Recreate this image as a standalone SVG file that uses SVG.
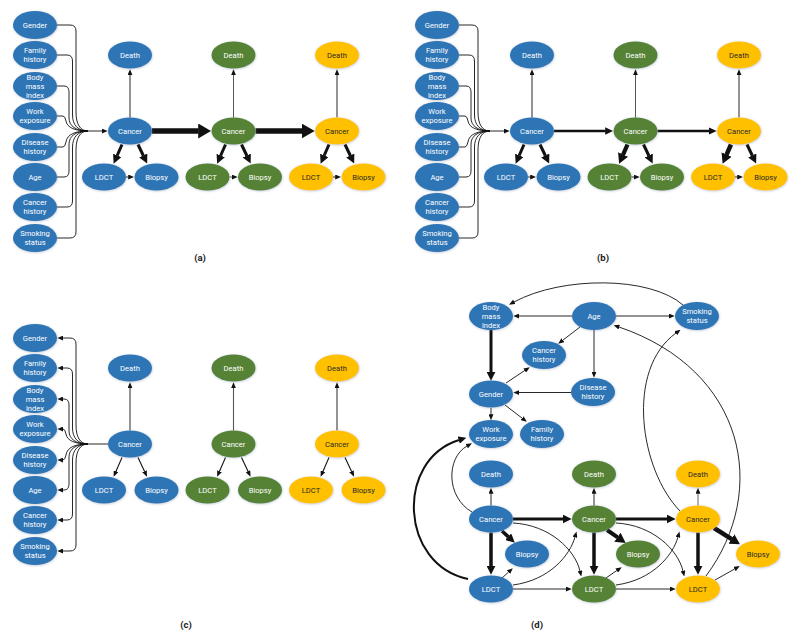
<svg xmlns="http://www.w3.org/2000/svg" width="800" height="636" viewBox="0 0 800 636">
<style>
.b{fill:#2E75B6}.g{fill:#548235}.y{fill:#FFC000}
ellipse{filter:url(#sh)}
text{font-family:Roboto,"Liberation Sans",sans-serif;font-size:7.6px;text-anchor:middle;fill:#fff}
.ty{fill:#2a2a2a}
.lbl{font-size:9.5px;font-weight:bold;fill:#222}
.e{fill:none;stroke:#111;stroke-width:0.9}
.e path{fill:none}
</style>
<defs>
<filter id="sh" x="-20%" y="-25%" width="140%" height="150%"><feDropShadow dx="0.4" dy="0.6" stdDeviation="0.8" flood-color="#6a7f99" flood-opacity="0.45"/></filter>
<marker id="s" markerUnits="userSpaceOnUse" markerWidth="6" markerHeight="5" viewBox="0 0 6 5" refX="0.3" refY="2.5" orient="auto"><path d="M0,0L6,2.5L0,5z" fill="#111"/></marker>
<marker id="m" markerUnits="userSpaceOnUse" markerWidth="8" markerHeight="7.5" viewBox="0 0 8 7.5" refX="0.3" refY="3.75" orient="auto"><path d="M0,0L8,3.75L0,7.5z" fill="#111"/></marker>
<marker id="t" markerUnits="userSpaceOnUse" markerWidth="9" markerHeight="9" viewBox="0 0 9 9" refX="0.3" refY="4.5" orient="auto"><path d="M0,0L9,4.5L0,9z" fill="#111"/></marker>
<marker id="u" markerUnits="userSpaceOnUse" markerWidth="10" markerHeight="11" viewBox="0 0 10 11" refX="0.3" refY="5.5" orient="auto"><path d="M0,0L10,5.5L0,11z" fill="#111"/></marker>
<marker id="x" markerUnits="userSpaceOnUse" markerWidth="13" markerHeight="15" viewBox="0 0 13 15" refX="0.3" refY="7.5" orient="auto"><path d="M0,0L13,7.5L0,15z" fill="#111"/></marker>
</defs>

<!-- ================= PANEL A ================= -->
<g id="panel-a">
<g id="a-connectors" class="e">
<path d="M57,25 H70 Q76,25 76,31 V112 C76,124 80,131 88,131"/>
<path d="M57,55 H67 Q72.5,55 72.5,61 V115 C72.5,125 78,131 88,131"/>
<path d="M57,86 H64 Q69,86 69,92 V118 C69,126 76,131 88,131"/>
<path d="M57,116 H63 Q65,116 66,121 C67,128 76,131 88,131"/>
<path d="M57,147 H63 Q65,147 66,142 C67,134 76,131 88,131"/>
<path d="M57,177 H64 Q69,177 69,171 V144 C69,136 76,131 88,131"/>
<path d="M57,207 H67 Q72.5,207 72.5,201 V147 C72.5,137 78,131 88,131"/>
<path d="M57,238 H70 Q76,238 76,232 V150 C76,138 80,131 88,131"/>
<path d="M88,131 H102" marker-end="url(#s)"/>
<path d="M152,131 H198.5" stroke-width="5.5" marker-end="url(#x)"/>
<path d="M255.5,131 H302" stroke-width="5.5" marker-end="url(#x)"/>
<g transform="translate(130,0)">
<path d="M0,117.5 V75" marker-end="url(#s)"/>
<path d="M-8,144.5 L-12.9,155.75" stroke-width="3" marker-end="url(#t)"/>
<path d="M8,144.5 L13.4,155.75" stroke-width="3" marker-end="url(#t)"/>
<path d="M-4,177 H-1.5" marker-end="url(#s)"/>
</g>
<g transform="translate(233.5,0)" stroke="#444">
<path d="M0,117.5 V75" marker-end="url(#s)"/>
<path d="M-8,144.5 L-12.9,155.75" stroke="#111" stroke-width="3" marker-end="url(#t)"/>
<path d="M8,144.5 L13.4,155.75" stroke="#111" stroke-width="3" marker-end="url(#t)"/>
<path d="M-4,177 H-1.5" marker-end="url(#s)"/>
</g>
<g transform="translate(337,0)">
<path d="M0,117.5 V75" marker-end="url(#s)"/>
<path d="M-8,144.5 L-12.9,155.75" stroke-width="3" marker-end="url(#t)"/>
<path d="M8,144.5 L13.4,155.75" stroke-width="3" marker-end="url(#t)"/>
<path d="M-4,177 H-1.5" marker-end="url(#s)"/>
</g>
</g>
<g id="a-gender"><ellipse class="b" cx="35" cy="25" rx="22" ry="14"/><text x="35" y="27.8">Gender</text></g>
<g id="a-family-history"><ellipse class="b" cx="35" cy="55" rx="22" ry="14"/><text x="35" y="53.4">Family<tspan x="35" dy="8.9">history</tspan></text></g>
<g id="a-bmi"><ellipse class="b" cx="35" cy="86" rx="22" ry="14"/><text x="35" y="79.8">Body<tspan x="35" dy="8.9">mass</tspan><tspan x="35" dy="8.9">index</tspan></text></g>
<g id="a-work-exposure"><ellipse class="b" cx="35" cy="116" rx="22" ry="14"/><text x="35" y="114.4">Work<tspan x="35" dy="8.9">exposure</tspan></text></g>
<g id="a-disease-history"><ellipse class="b" cx="35" cy="147" rx="22" ry="14"/><text x="35" y="145.4">Disease<tspan x="35" dy="8.9">history</tspan></text></g>
<g id="a-age"><ellipse class="b" cx="35" cy="177" rx="22" ry="14"/><text x="35" y="179.8">Age</text></g>
<g id="a-cancer-history"><ellipse class="b" cx="35" cy="207" rx="22" ry="14"/><text x="35" y="205.4">Cancer<tspan x="35" dy="8.9">history</tspan></text></g>
<g id="a-smoking-status"><ellipse class="b" cx="35" cy="238" rx="22" ry="14"/><text x="35" y="236.4">Smoking<tspan x="35" dy="8.9">status</tspan></text></g>
<g id="a-death-1"><ellipse class="b" cx="130" cy="55" rx="22" ry="13.5"/><text x="130" y="57.8">Death</text></g>
<g id="a-cancer-1"><ellipse class="b" cx="130" cy="131" rx="22" ry="13.5"/><text x="130" y="133.8">Cancer</text></g>
<g id="a-ldct-1"><ellipse class="b" cx="104" cy="177" rx="22" ry="13.5"/><text x="104" y="179.8">LDCT</text></g>
<g id="a-biopsy-1"><ellipse class="b" cx="156.5" cy="177" rx="22" ry="13.5"/><text x="156.5" y="179.8">Biopsy</text></g>
<g id="a-death-2"><ellipse class="g" cx="233.5" cy="55" rx="22" ry="13.5"/><text x="233.5" y="57.8">Death</text></g>
<g id="a-cancer-2"><ellipse class="g" cx="233.5" cy="131" rx="22" ry="13.5"/><text x="233.5" y="133.8">Cancer</text></g>
<g id="a-ldct-2"><ellipse class="g" cx="207.5" cy="177" rx="22" ry="13.5"/><text x="207.5" y="179.8">LDCT</text></g>
<g id="a-biopsy-2"><ellipse class="g" cx="260" cy="177" rx="22" ry="13.5"/><text x="260" y="179.8">Biopsy</text></g>
<g id="a-death-3"><ellipse class="y" cx="337" cy="55" rx="22" ry="13.5"/><text class="ty" x="337" y="57.8">Death</text></g>
<g id="a-cancer-3"><ellipse class="y" cx="337" cy="131" rx="22" ry="13.5"/><text class="ty" x="337" y="133.8">Cancer</text></g>
<g id="a-ldct-3"><ellipse class="y" cx="311" cy="177" rx="22" ry="13.5"/><text class="ty" x="311" y="179.8">LDCT</text></g>
<g id="a-biopsy-3"><ellipse class="y" cx="363.5" cy="177" rx="22" ry="13.5"/><text class="ty" x="363.5" y="179.8">Biopsy</text></g>
<text class="lbl" x="200" y="261">(a)</text>
</g>

<!-- ================= PANEL B ================= -->
<g id="panel-b" transform="translate(402,0)">
<g id="b-connectors" class="e">
<path d="M57,25 H70 Q76,25 76,31 V112 C76,124 80,131 88,131"/>
<path d="M57,55 H67 Q72.5,55 72.5,61 V115 C72.5,125 78,131 88,131"/>
<path d="M57,86 H64 Q69,86 69,92 V118 C69,126 76,131 88,131"/>
<path d="M57,116 H63 Q65,116 66,121 C67,128 76,131 88,131"/>
<path d="M57,147 H63 Q65,147 66,142 C67,134 76,131 88,131"/>
<path d="M57,177 H64 Q69,177 69,171 V144 C69,136 76,131 88,131"/>
<path d="M57,207 H67 Q72.5,207 72.5,201 V147 C72.5,137 78,131 88,131"/>
<path d="M57,238 H70 Q76,238 76,232 V150 C76,138 80,131 88,131"/>
<path d="M88,131 H102" marker-end="url(#s)"/>
<path d="M152,131 H203.5" stroke-width="2.5" marker-end="url(#m)"/>
<path d="M255.5,131 H307" stroke-width="2.5" marker-end="url(#m)"/>
<g transform="translate(130,0)">
<path d="M0,117.5 V75" marker-end="url(#s)"/>
<path d="M-8,144.5 L-12.9,155.75" stroke-width="3" marker-end="url(#t)"/>
<path d="M8,144.5 L13.4,155.75" stroke-width="3" marker-end="url(#t)"/>
<path d="M-4,177 H-1.5" marker-end="url(#s)"/>
</g>
<g transform="translate(233.5,0)">
<path d="M0,117.5 V75" stroke="#444" marker-end="url(#s)"/>
<path d="M-8,144.5 L-12.5,154.8" stroke-width="4.2" marker-end="url(#u)"/>
<path d="M8,144.5 L13.4,155.75" stroke-width="3" marker-end="url(#t)"/>
<path d="M-4,177 H-1.5" marker-end="url(#s)"/>
</g>
<g transform="translate(337,0)">
<path d="M0,117.5 V75" marker-end="url(#s)"/>
<path d="M-8,144.5 L-12.5,154.8" stroke-width="4.5" marker-end="url(#u)"/>
<path d="M8,144.5 L13.4,155.75" stroke-width="3" marker-end="url(#t)"/>
<path d="M-4,177 H-1.5" marker-end="url(#s)"/>
</g>
</g>
<g id="b-gender"><ellipse class="b" cx="35" cy="25" rx="22" ry="14"/><text x="35" y="27.8">Gender</text></g>
<g id="b-family-history"><ellipse class="b" cx="35" cy="55" rx="22" ry="14"/><text x="35" y="53.4">Family<tspan x="35" dy="8.9">history</tspan></text></g>
<g id="b-bmi"><ellipse class="b" cx="35" cy="86" rx="22" ry="14"/><text x="35" y="79.8">Body<tspan x="35" dy="8.9">mass</tspan><tspan x="35" dy="8.9">index</tspan></text></g>
<g id="b-work-exposure"><ellipse class="b" cx="35" cy="116" rx="22" ry="14"/><text x="35" y="114.4">Work<tspan x="35" dy="8.9">exposure</tspan></text></g>
<g id="b-disease-history"><ellipse class="b" cx="35" cy="147" rx="22" ry="14"/><text x="35" y="145.4">Disease<tspan x="35" dy="8.9">history</tspan></text></g>
<g id="b-age"><ellipse class="b" cx="35" cy="177" rx="22" ry="14"/><text x="35" y="179.8">Age</text></g>
<g id="b-cancer-history"><ellipse class="b" cx="35" cy="207" rx="22" ry="14"/><text x="35" y="205.4">Cancer<tspan x="35" dy="8.9">history</tspan></text></g>
<g id="b-smoking-status"><ellipse class="b" cx="35" cy="238" rx="22" ry="14"/><text x="35" y="236.4">Smoking<tspan x="35" dy="8.9">status</tspan></text></g>
<g id="b-death-1"><ellipse class="b" cx="130" cy="55" rx="22" ry="13.5"/><text x="130" y="57.8">Death</text></g>
<g id="b-cancer-1"><ellipse class="b" cx="130" cy="131" rx="22" ry="13.5"/><text x="130" y="133.8">Cancer</text></g>
<g id="b-ldct-1"><ellipse class="b" cx="104" cy="177" rx="22" ry="13.5"/><text x="104" y="179.8">LDCT</text></g>
<g id="b-biopsy-1"><ellipse class="b" cx="156.5" cy="177" rx="22" ry="13.5"/><text x="156.5" y="179.8">Biopsy</text></g>
<g id="b-death-2"><ellipse class="g" cx="233.5" cy="55" rx="22" ry="13.5"/><text x="233.5" y="57.8">Death</text></g>
<g id="b-cancer-2"><ellipse class="g" cx="233.5" cy="131" rx="22" ry="13.5"/><text x="233.5" y="133.8">Cancer</text></g>
<g id="b-ldct-2"><ellipse class="g" cx="207.5" cy="177" rx="22" ry="13.5"/><text x="207.5" y="179.8">LDCT</text></g>
<g id="b-biopsy-2"><ellipse class="g" cx="260" cy="177" rx="22" ry="13.5"/><text x="260" y="179.8">Biopsy</text></g>
<g id="b-death-3"><ellipse class="y" cx="337" cy="55" rx="22" ry="13.5"/><text class="ty" x="337" y="57.8">Death</text></g>
<g id="b-cancer-3"><ellipse class="y" cx="337" cy="131" rx="22" ry="13.5"/><text class="ty" x="337" y="133.8">Cancer</text></g>
<g id="b-ldct-3"><ellipse class="y" cx="311" cy="177" rx="22" ry="13.5"/><text class="ty" x="311" y="179.8">LDCT</text></g>
<g id="b-biopsy-3"><ellipse class="y" cx="363.5" cy="177" rx="22" ry="13.5"/><text class="ty" x="363.5" y="179.8">Biopsy</text></g>
<text class="lbl" x="201" y="261">(b)</text>
</g>

<!-- ================= PANEL C ================= -->
<g id="panel-c" transform="translate(0,313)">
<g id="c-connectors" class="e">
<path d="M108,131 H88"/>
<path d="M88,131 C80,131 76,124 76,112 V31 Q76,25 70,25 H63" marker-end="url(#s)"/>
<path d="M88,131 C78,131 72.5,125 72.5,115 V61 Q72.5,55 67,55 H63" marker-end="url(#s)"/>
<path d="M88,131 C76,131 69,126 69,118 V92 Q69,86 64,86 H63" marker-end="url(#s)"/>
<path d="M88,131 C76,131 67,128 66,121 Q65,116 63,116" marker-end="url(#s)"/>
<path d="M88,131 C76,131 67,134 66,142 Q65,147 63,147" marker-end="url(#s)"/>
<path d="M88,131 C76,131 69,136 69,144 V171 Q69,177 64,177 H63" marker-end="url(#s)"/>
<path d="M88,131 C78,131 72.5,137 72.5,147 V201 Q72.5,207 67,207 H63" marker-end="url(#s)"/>
<path d="M88,131 C80,131 76,138 76,150 V232 Q76,238 70,238 H63" marker-end="url(#s)"/>
<g transform="translate(130,0)">
<path d="M0,117.5 V75" marker-end="url(#s)"/>
<path d="M-8,144.5 L-14.1,158.5" stroke-width="1.1" marker-end="url(#s)"/>
<path d="M8,144.5 L14.6,158.5" stroke-width="1.1" marker-end="url(#s)"/>
</g>
<g transform="translate(233.5,0)">
<path d="M0,117.5 V75" stroke="#555" stroke-width="1.1" marker-end="url(#s)"/>
<path d="M-8,144.5 L-14.1,158.5" stroke-width="1.1" marker-end="url(#s)"/>
<path d="M8,144.5 L14.6,158.5" stroke-width="1.1" marker-end="url(#s)"/>
</g>
<g transform="translate(337,0)">
<path d="M0,117.5 V75" marker-end="url(#s)"/>
<path d="M-8,144.5 L-14.1,158.5" stroke-width="1.1" marker-end="url(#s)"/>
<path d="M8,144.5 L14.6,158.5" stroke-width="1.1" marker-end="url(#s)"/>
</g>
</g>
<g id="c-gender"><ellipse class="b" cx="35" cy="25" rx="22" ry="14"/><text x="35" y="27.8">Gender</text></g>
<g id="c-family-history"><ellipse class="b" cx="35" cy="55" rx="22" ry="14"/><text x="35" y="53.4">Family<tspan x="35" dy="8.9">history</tspan></text></g>
<g id="c-bmi"><ellipse class="b" cx="35" cy="86" rx="22" ry="14"/><text x="35" y="79.8">Body<tspan x="35" dy="8.9">mass</tspan><tspan x="35" dy="8.9">index</tspan></text></g>
<g id="c-work-exposure"><ellipse class="b" cx="35" cy="116" rx="22" ry="14"/><text x="35" y="114.4">Work<tspan x="35" dy="8.9">exposure</tspan></text></g>
<g id="c-disease-history"><ellipse class="b" cx="35" cy="147" rx="22" ry="14"/><text x="35" y="145.4">Disease<tspan x="35" dy="8.9">history</tspan></text></g>
<g id="c-age"><ellipse class="b" cx="35" cy="177" rx="22" ry="14"/><text x="35" y="179.8">Age</text></g>
<g id="c-cancer-history"><ellipse class="b" cx="35" cy="207" rx="22" ry="14"/><text x="35" y="205.4">Cancer<tspan x="35" dy="8.9">history</tspan></text></g>
<g id="c-smoking-status"><ellipse class="b" cx="35" cy="238" rx="22" ry="14"/><text x="35" y="236.4">Smoking<tspan x="35" dy="8.9">status</tspan></text></g>
<g id="c-death-1"><ellipse class="b" cx="130" cy="55" rx="22" ry="13.5"/><text x="130" y="57.8">Death</text></g>
<g id="c-cancer-1"><ellipse class="b" cx="130" cy="131" rx="22" ry="13.5"/><text x="130" y="133.8">Cancer</text></g>
<g id="c-ldct-1"><ellipse class="b" cx="104" cy="177" rx="22" ry="13.5"/><text x="104" y="179.8">LDCT</text></g>
<g id="c-biopsy-1"><ellipse class="b" cx="156.5" cy="177" rx="22" ry="13.5"/><text x="156.5" y="179.8">Biopsy</text></g>
<g id="c-death-2"><ellipse class="g" cx="233.5" cy="55" rx="22" ry="13.5"/><text x="233.5" y="57.8">Death</text></g>
<g id="c-cancer-2"><ellipse class="g" cx="233.5" cy="131" rx="22" ry="13.5"/><text x="233.5" y="133.8">Cancer</text></g>
<g id="c-ldct-2"><ellipse class="g" cx="207.5" cy="177" rx="22" ry="13.5"/><text x="207.5" y="179.8">LDCT</text></g>
<g id="c-biopsy-2"><ellipse class="g" cx="260" cy="177" rx="22" ry="13.5"/><text x="260" y="179.8">Biopsy</text></g>
<g id="c-death-3"><ellipse class="y" cx="337" cy="55" rx="22" ry="13.5"/><text class="ty" x="337" y="57.8">Death</text></g>
<g id="c-cancer-3"><ellipse class="y" cx="337" cy="131" rx="22" ry="13.5"/><text class="ty" x="337" y="133.8">Cancer</text></g>
<g id="c-ldct-3"><ellipse class="y" cx="311" cy="177" rx="22" ry="13.5"/><text class="ty" x="311" y="179.8">LDCT</text></g>
<g id="c-biopsy-3"><ellipse class="y" cx="363.5" cy="177" rx="22" ry="13.5"/><text class="ty" x="363.5" y="179.8">Biopsy</text></g>
<text class="lbl" x="186" y="315">(c)</text>
</g>

<!-- ================= PANEL D ================= -->
<g id="panel-d">
<g id="d-connectors" class="e">
<path d="M683,305 C650,276 562,276 514,302" marker-end="url(#s)"/>
<path d="M572,316 H519" marker-end="url(#s)"/>
<path d="M616,316 H669" marker-end="url(#s)"/>
<path d="M580,327 L562.7,340.3" marker-end="url(#s)"/>
<path d="M594,330 V372" marker-end="url(#s)"/>
<path d="M491,330 V372" stroke-width="3" marker-end="url(#t)"/>
<path d="M506,383 L525,370.3" marker-end="url(#s)"/>
<path d="M571,392.5 H519" marker-end="url(#s)"/>
<path d="M491,408 V414.5" marker-end="url(#s)"/>
<path d="M505,405 L522.3,418.3" marker-end="url(#s)"/>
<path d="M491,505.5 V493.5" marker-end="url(#s)"/>
<path d="M472,512 C446,497 446,458 467,446" marker-end="url(#s)"/>
<path d="M468,579 C400,565 395,460 459,440" stroke-width="2" marker-end="url(#m)"/>
<path d="M513,519 H563" stroke-width="3" marker-end="url(#t)"/>
<path d="M491,532.5 V566" stroke-width="3.5" marker-end="url(#t)"/>
<path d="M502,531 L508.4,536.9" stroke-width="3.5" marker-end="url(#t)"/>
<path d="M513,523 C550,525 575,550 580,571" marker-end="url(#s)"/>
<path d="M502,578 L508.6,572" marker-end="url(#s)"/>
<path d="M513,585 C550,580 570,555 575,537" marker-end="url(#s)"/>
<path d="M513,589 H566" marker-end="url(#s)"/>
<path d="M594,505.5 V493.5" marker-end="url(#s)"/>
<path d="M616,519 H667" stroke-width="3" marker-end="url(#t)"/>
<path d="M594,532.5 V566" stroke-width="3.5" marker-end="url(#t)"/>
<path d="M607,530 L617.7,537.4" stroke-width="4" marker-end="url(#u)"/>
<path d="M616,523 C653,525 678,550 683,571" marker-end="url(#s)"/>
<path d="M606,578 L617,570.4" marker-end="url(#s)"/>
<path d="M616,585 C653,580 673,555 678,537" marker-end="url(#s)"/>
<path d="M616,589 H670" marker-end="url(#s)"/>
<path d="M698,505.5 V493.5" stroke="#555" marker-end="url(#s)"/>
<path d="M698,532.5 V566" stroke-width="3.5" marker-end="url(#t)"/>
<path d="M714,528 L731.7,539.1" stroke-width="4.5" marker-end="url(#u)"/>
<path d="M715,580 L734.8,568.9" marker-end="url(#s)"/>
<path d="M680,511 C640,470 625,370 676,333" marker-end="url(#s)"/>
<path d="M706,576 C770,490 745,370 619,327" marker-end="url(#s)"/>
</g>
<g id="d-bmi"><ellipse class="b" cx="491" cy="316" rx="22" ry="14"/><text x="491" y="309.8">Body<tspan x="491" dy="8.9">mass</tspan><tspan x="491" dy="8.9">index</tspan></text></g>
<g id="d-age"><ellipse class="b" cx="594" cy="316" rx="22" ry="14"/><text x="594" y="318.8">Age</text></g>
<g id="d-smoking-status"><ellipse class="b" cx="697" cy="316" rx="22" ry="14"/><text x="697" y="314.4">Smoking<tspan x="697" dy="8.9">status</tspan></text></g>
<g id="d-cancer-history"><ellipse class="b" cx="544" cy="355" rx="22" ry="14"/><text x="544" y="353.4">Cancer<tspan x="544" dy="8.9">history</tspan></text></g>
<g id="d-gender"><ellipse class="b" cx="491" cy="394" rx="22" ry="13.5"/><text x="491" y="396.8">Gender</text></g>
<g id="d-disease-history"><ellipse class="b" cx="593" cy="392" rx="22" ry="14"/><text x="593" y="390.4">Disease<tspan x="593" dy="8.9">history</tspan></text></g>
<g id="d-work-exposure"><ellipse class="b" cx="491" cy="434" rx="22" ry="14"/><text x="491" y="432.4">Work<tspan x="491" dy="8.9">exposure</tspan></text></g>
<g id="d-family-history"><ellipse class="b" cx="542" cy="434" rx="22" ry="14"/><text x="542" y="432.4">Family<tspan x="542" dy="8.9">history</tspan></text></g>
<g id="d-death-1"><ellipse class="b" cx="491" cy="474" rx="22" ry="13.5"/><text x="491" y="476.8">Death</text></g>
<g id="d-cancer-1"><ellipse class="b" cx="491" cy="519" rx="22" ry="13.5"/><text x="491" y="521.8">Cancer</text></g>
<g id="d-biopsy-1"><ellipse class="b" cx="527" cy="554" rx="22" ry="13.5"/><text x="527" y="556.8">Biopsy</text></g>
<g id="d-ldct-1"><ellipse class="b" cx="491" cy="589" rx="22" ry="13.5"/><text x="491" y="591.8">LDCT</text></g>
<g id="d-death-2"><ellipse class="g" cx="594" cy="474" rx="22" ry="13.5"/><text x="594" y="476.8">Death</text></g>
<g id="d-cancer-2"><ellipse class="g" cx="594" cy="519" rx="22" ry="13.5"/><text x="594" y="521.8">Cancer</text></g>
<g id="d-biopsy-2"><ellipse class="g" cx="638" cy="554" rx="22" ry="13.5"/><text x="638" y="556.8">Biopsy</text></g>
<g id="d-ldct-2"><ellipse class="g" cx="594" cy="589" rx="22" ry="13.5"/><text x="594" y="591.8">LDCT</text></g>
<g id="d-death-3"><ellipse class="y" cx="698" cy="474" rx="22" ry="13.5"/><text class="ty" x="698" y="476.8">Death</text></g>
<g id="d-cancer-3"><ellipse class="y" cx="698" cy="519" rx="22" ry="13.5"/><text class="ty" x="698" y="521.8">Cancer</text></g>
<g id="d-biopsy-3"><ellipse class="y" cx="758" cy="554" rx="22" ry="13.5"/><text class="ty" x="758" y="556.8">Biopsy</text></g>
<g id="d-ldct-3"><ellipse class="y" cx="698" cy="589" rx="22" ry="13.5"/><text class="ty" x="698" y="591.8">LDCT</text></g>
<text class="lbl" x="537" y="628">(d)</text>
</g>
</svg>
